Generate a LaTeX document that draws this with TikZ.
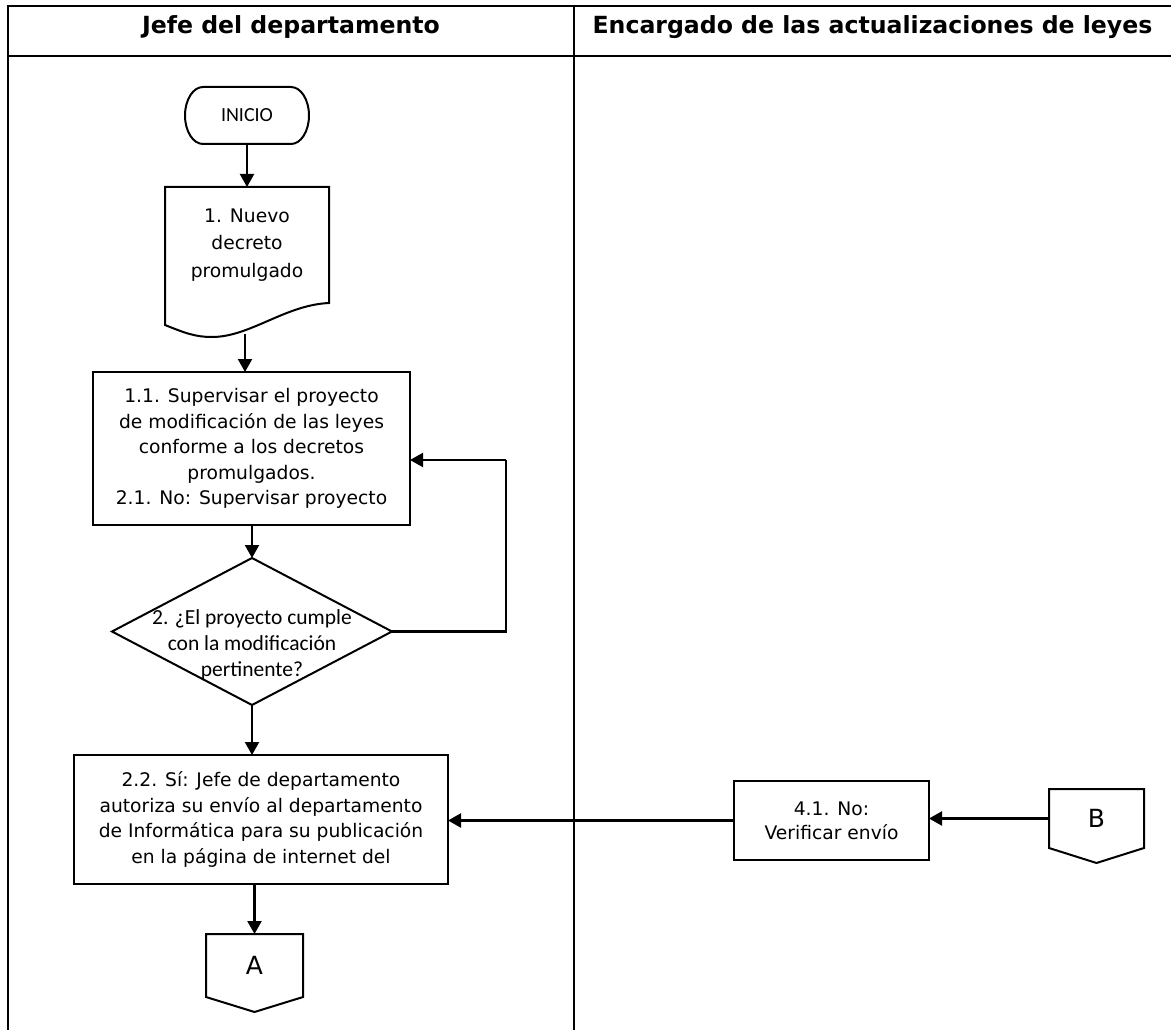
\documentclass[tikz,border=0pt]{standalone}
\usepackage{fontspec}
\usetikzlibrary{arrows.meta,calc}
\newfontfamily\bodyfont{DejaVu Sans}
\newfontfamily\headfont{DejaVu Sans}
\newfontfamily\calfont{Carlito}

\tikzset{
  frame/.style={line width=2.8pt, line join=miter},
  outline/.style={draw, line width=2pt, line join=miter},
  slot/.style={inner sep=0pt, outer sep=0pt, align=center},
  boxtext/.style={slot, font=\bodyfont\fontsize{18.7}{25.5}\selectfont},
  headtext/.style={inner sep=0pt, font=\headfont\bfseries\fontsize{23.6}{28}\selectfont},
  caltext/.style={inner sep=0pt, align=center, font=\calfont\fontsize{21.5}{26}\selectfont},
  arr/.style={line width=2.2pt, -{Triangle[length=13pt,width=14pt]}},
}

\begin{document}
\begin{tikzpicture}[x=1pt, y=-1pt]
\useasboundingbox (0,0) rectangle (1171,1030);
\fill[white] (0,0) rectangle (1171,1030);

% swimlane frame
\draw[frame] (8,1030) -- (8,6) -- (1171,6);
\draw[frame] (8,56) -- (1171,56);
\draw[frame] (574,6) -- (574,1030);

% lane headers
\node[headtext, anchor=base] (h1) at (291,34) {Jefe del departamento};
\node[headtext, anchor=base] (h2) at (872.5,34) {Encargado de las actualizaciones de leyes};

% start terminator
\node[slot, minimum width=124pt, minimum height=57pt, font=\calfont\fontsize{20}{24}\selectfont] (ini) at (247,115.5) {INICIO};
\draw[line width=2pt] ([xshift=18pt]ini.north west) -- ([xshift=-18pt]ini.north east)
  arc[start angle=90, end angle=-90, x radius=18pt, y radius=28.5pt]
  -- ([xshift=18pt]ini.south west)
  arc[start angle=270, end angle=90, x radius=18pt, y radius=28.5pt] -- cycle;

% document shape
\node[boxtext, minimum width=164pt, minimum height=116pt,
      font=\bodyfont\fontsize{18.7}{27.5}\selectfont] (doc) at (247,245)
  {1. Nuevo\\decreto\\promulgado};
\draw[line width=2pt] (doc.north west) -- (doc.north east) -- (doc.south east)
  .. controls (285,305) and (250,337) .. (212,337)
  .. controls (195,337) and (185,333) .. (165,325) -- cycle;
\coordinate (docw) at (245,334);

% review task
\node[boxtext, outline, minimum width=317pt, minimum height=153pt] (b11) at (251.5,448.5)
  {1.1. Supervisar el proyecto\\de modificación de las leyes\\conforme a los decretos\\promulgados.\\2.1. No: Supervisar proyecto};

% decision
\node[slot, minimum width=280pt, minimum height=147pt] (dia) at (252,631.5) {};
\draw[line width=2pt] (dia.north) -- (dia.east) -- (dia.south) -- (dia.west) -- cycle;
\node[caltext] (diat) at ([yshift=-13pt]dia.center)
  {2. ¿El proyecto cumple\\con la modificación\\pertinente?};

% approval task
\node[boxtext, outline, minimum width=374pt, minimum height=129pt] (b22) at (261,819.5)
  {2.2. Sí: Jefe de departamento\\autoriza su envío al departamento\\de Informática para su publicación\\en la página de internet del};

% verification task
\node[boxtext, outline, minimum width=195pt, minimum height=79pt,
      font=\bodyfont\fontsize{18.7}{24}\selectfont] (b41) at (831.5,820.5)
  {4.1. No:\\Verificar envío};

% off-page connectors
\node[slot, minimum width=97pt, minimum height=63pt, font=\bodyfont\fontsize{25}{30}\selectfont] (A) at (254.5,965.5) {A};
\draw[line width=2pt] (A.north west) -- (A.north east) -- (A.south east)
  -- ([yshift=-15pt]A.south) -- (A.south west) -- cycle;
\node[slot, minimum width=95pt, minimum height=59pt, font=\bodyfont\fontsize{25}{30}\selectfont] (B) at (1096.5,818.5) {B};
\draw[line width=2pt] (B.north west) -- (B.north east) -- (B.south east)
  -- ([yshift=-15pt]B.south) -- (B.south west) -- cycle;

% connectors
\draw[arr] (ini.south) -- (doc.north);
\draw[arr] (docw) -- (docw |- b11.north);
\draw[arr] (dia.north |- b11.south) -- (dia.north);
\coordinate (loop) at (506,460);
\draw[line width=2.2pt] (dia.east) -| (loop);
\draw[arr] (loop) -- (loop -| b11.east);
\draw[arr] (dia.south) -- (dia.south |- b22.north);
\draw[arr] (A.north |- b22.south) -- (A.north);
\draw[arr] (b41.west) -- (b41.west -| b22.east);
\draw[arr] (B.west) -- (B.west -| b41.east);
\end{tikzpicture}
\end{document}
